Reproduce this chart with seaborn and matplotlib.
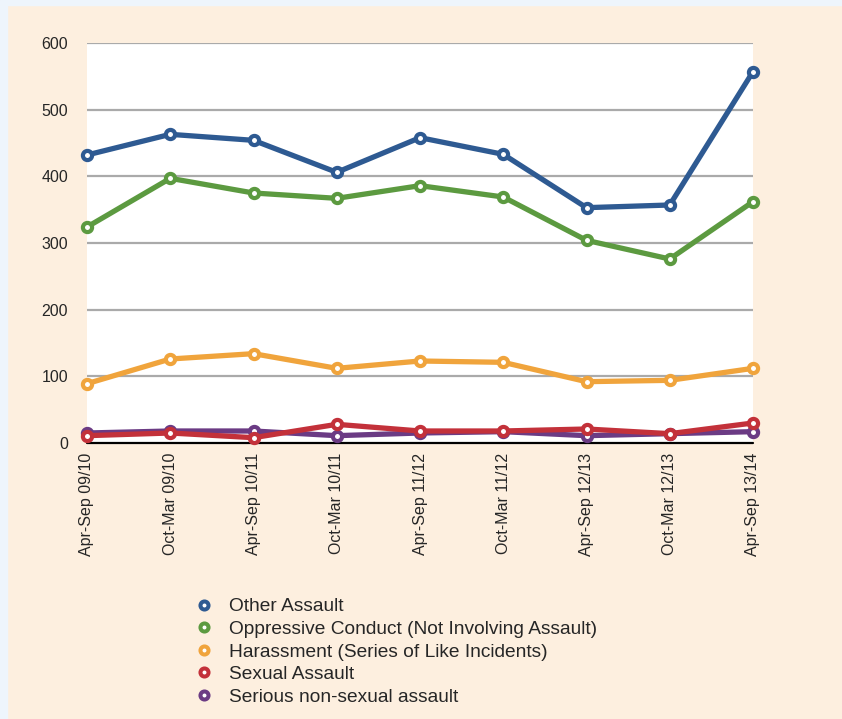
import matplotlib
matplotlib.use("Agg")
import matplotlib.pyplot as plt
from matplotlib.lines import Line2D
from matplotlib.patches import Rectangle
import seaborn as sns
import pandas as pd

periods = ["Apr-Sep 09/10", "Oct-Mar 09/10", "Apr-Sep 10/11", "Oct-Mar 10/11",
           "Apr-Sep 11/12", "Oct-Mar 11/12", "Apr-Sep 12/13", "Oct-Mar 12/13",
           "Apr-Sep 13/14"]
other_assault = [432, 463, 454, 406, 458, 433, 353, 357, 557]
oppressive = [324, 397, 375, 367, 386, 369, 304, 276, 362]
harassment = [89, 126, 134, 112, 123, 121, 92, 94, 112]
sexual_assault = [11, 15, 8, 28, 18, 18, 21, 14, 30]
serious_nonsexual = [15, 18, 18, 11, 15, 17, 11, 14, 17]

series_names = ["Other Assault", "Oppressive Conduct (Not Involving Assault)",
                "Harassment (Series of Like Incidents)", "Sexual Assault",
                "Serious non-sexual assault"]
series_values = [other_assault, oppressive, harassment, sexual_assault, serious_nonsexual]
colors = ["#2e5a92", "#5c9a40", "#f0a43c", "#c3313a", "#6b3b84"]
zorders = [6, 5, 4, 3.5, 3]

sns.set_theme(style="white")
plt.rcParams["font.family"] = ["Liberation Sans", "DejaVu Sans"]

fig = plt.figure(figsize=(8.42, 7.19), dpi=100)
fig.patch.set_facecolor("#fdefdf")
# light blue border strips
fig.add_artist(Rectangle((0, 1 - 5 / 719), 1, 5 / 719, transform=fig.transFigure,
                         color="#eef5fc", zorder=0))
fig.add_artist(Rectangle((0, 0), 7 / 842, 1, transform=fig.transFigure,
                         color="#eef5fc", zorder=0))

ax = fig.add_axes([87 / 842, 1 - 443 / 719, (753 - 87) / 842, 400 / 719])
ax.set_facecolor("white")

x = list(range(len(periods)))
for name, vals, c, z in zip(series_names, series_values, colors, zorders):
    df = pd.DataFrame({"x": x, "y": vals})
    sns.lineplot(data=df, x="x", y="y", ax=ax, color=c, linewidth=3.8,
                 marker="o", markersize=6.6, markerfacecolor="white",
                 markeredgecolor=c, markeredgewidth=3.0, zorder=z, clip_on=False)

ax.set_xlim(0, len(periods) - 1)
ax.set_ylim(0, 600)
ax.set_yticks(range(0, 601, 100))
ax.set_yticklabels([str(v) for v in range(0, 601, 100)], fontsize=11.5)
ax.set_xticks(x)
ax.set_xticklabels(periods, rotation=90, fontsize=11.5)
ax.tick_params(axis="y", length=0, pad=13.5)
ax.tick_params(axis="x", length=0, pad=7)
ax.set_xlabel("")
ax.set_ylabel("")
for v in range(100, 601, 100):
    ax.axhline(v, color="#aaaaaa", linewidth=1.6, zorder=1)
ax.axhline(0, color="black", linewidth=1.6, zorder=2, clip_on=False)
for s in ax.spines.values():
    s.set_visible(False)
ax.grid(False)

handles = [Line2D([], [], linestyle="none", marker="o", markersize=5.8,
                  markerfacecolor="white", markeredgecolor=c, markeredgewidth=2.9)
           for c in colors]
fig.legend(handles, series_names, loc="upper left",
           bbox_to_anchor=(194.5 / 842, 1 - 598 / 719), frameon=False,
           fontsize=13.8, labelspacing=0.27, handlelength=1.0, handletextpad=0.8,
           borderaxespad=0, borderpad=0)

fig.savefig("out.png", dpi=100, facecolor=fig.get_facecolor())
